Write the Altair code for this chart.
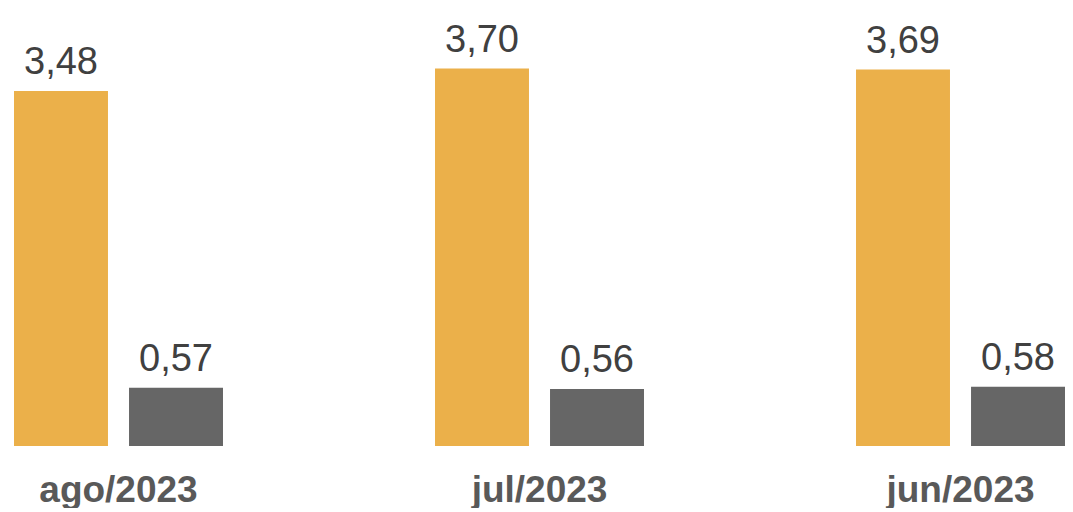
import altair as alt
import pandas as pd

months = ["ago/2023", "jul/2023", "jun/2023"]
series = ["Série 1", "Série 2"]
values_1 = [3.48, 3.70, 3.69]
values_2 = [0.57, 0.56, 0.58]
colors = ["#EBB04A", "#666666"]

rows = []
for m, a, b in zip(months, values_1, values_2):
    rows.append({"mes": m, "serie": series[0], "valor": a})
    rows.append({"mes": m, "serie": series[1], "valor": b})
df = pd.DataFrame(rows)

x = alt.X(
    "mes:N",
    sort=months,
    scale=alt.Scale(paddingInner=0.5036, paddingOuter=0.00713, align=1),
    axis=alt.Axis(
        title=None, labelAngle=0, domain=False, ticks=False, grid=False,
        labelFont="Liberation Sans", labelFontWeight="bold", labelFontSize=37,
        labelColor="#595959", labelPadding=55, labelBaseline="alphabetic",
    ),
)
xo = alt.XOffset("serie:N", sort=series, scale=alt.Scale(paddingInner=0.183))
y = alt.Y("valor:Q", scale=alt.Scale(domain=[0, 4.294], nice=False, zero=True), axis=None)
color = alt.Color("serie:N", scale=alt.Scale(domain=series, range=colors), legend=None)

bars = alt.Chart(df).mark_bar().encode(x=x, xOffset=xo, y=y, color=color)
labels = alt.Chart(df).transform_calculate(
    rotulo="replace(format(datum.valor, '.2f'), '.', ',')"
).mark_text(
    font="Liberation Sans", fontSize=38, color="#404040", dy=-17, baseline="alphabetic", align="center"
).encode(x=x, xOffset=xo, y=y, text="rotulo:N")

chart = alt.layer(bars, labels).properties(
    width=1057, height=438,
    autosize=alt.AutoSizeParams(type="none"),
    padding={"left": 0, "top": 0, "right": 0, "bottom": 62},
).configure_view(strokeWidth=0)

chart.save("out.html", embed_options={"renderer": "svg", "actions": False})
